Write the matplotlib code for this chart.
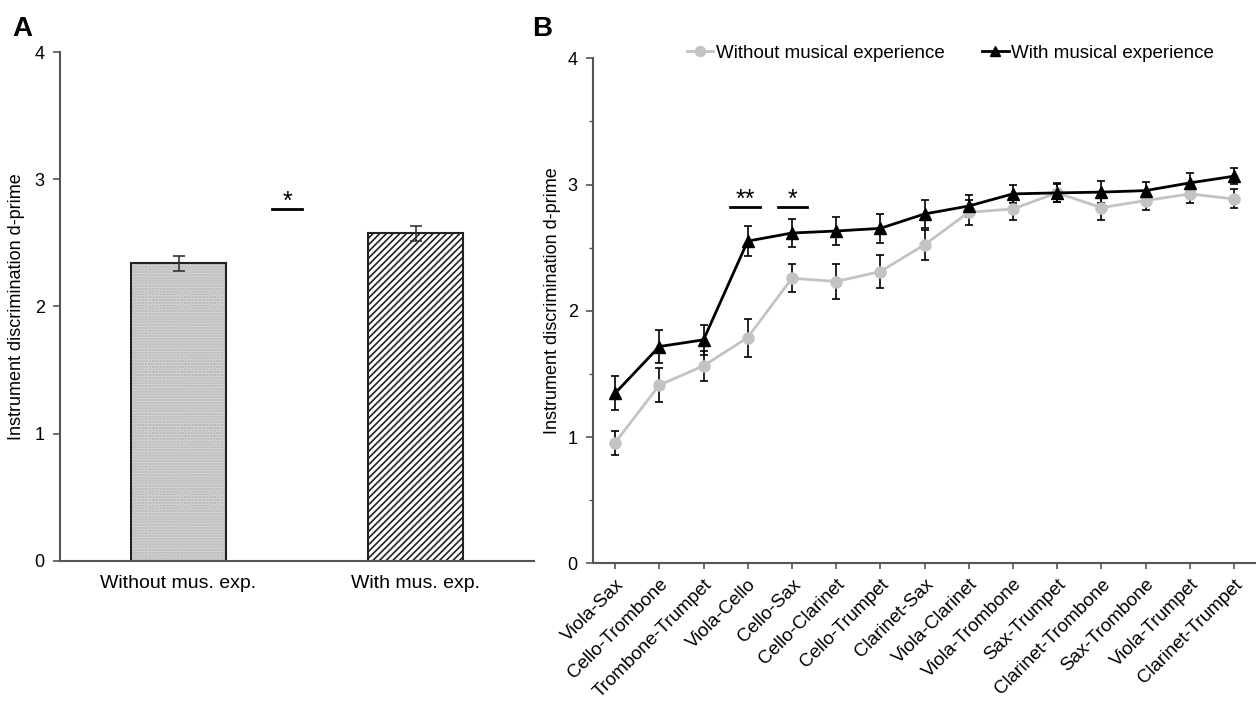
import matplotlib
matplotlib.use("Agg")
import matplotlib.pyplot as plt
from matplotlib.ticker import MultipleLocator

plt.rcParams['font.family'] = ['Liberation Sans', 'DejaVu Sans']
plt.rcParams['hatch.linewidth'] = 1.2

# Panel A data
groups = ['Without mus. exp.', 'With mus. exp.']
group_means = [2.34, 2.576]
group_err = [0.06, 0.06]

# Panel B data
pairs = ['Viola-Sax', 'Cello-Trombone', 'Trombone-Trumpet', 'Viola-Cello',
         'Cello-Sax', 'Cello-Clarinet', 'Cello-Trumpet', 'Clarinet-Sax',
         'Viola-Clarinet', 'Viola-Trombone', 'Sax-Trumpet', 'Clarinet-Trombone',
         'Sax-Trombone', 'Viola-Trumpet', 'Clarinet-Trumpet']
without_exp = [0.956, 1.411, 1.564, 1.788, 2.258, 2.232, 2.311, 2.523,
               2.78, 2.807, 2.934, 2.817, 2.873, 2.926, 2.886]
without_err = [0.095, 0.135, 0.12, 0.15, 0.11, 0.14, 0.13, 0.12,
               0.1, 0.09, 0.07, 0.1, 0.075, 0.07, 0.075]
with_exp = [1.347, 1.717, 1.77, 2.552, 2.616, 2.632, 2.653, 2.767,
            2.83, 2.926, 2.934, 2.94, 2.952, 3.013, 3.066]
with_err = [0.135, 0.13, 0.12, 0.12, 0.11, 0.11, 0.115, 0.11,
            0.09, 0.07, 0.075, 0.085, 0.07, 0.08, 0.065]

ylabel = 'Instrument discrimination d-prime'
spine_col = '#555555'


def style_axes(ax):
    for side in ['top', 'right']:
        ax.spines[side].set_visible(False)
    for side in ['left', 'bottom']:
        ax.spines[side].set_color(spine_col)
        ax.spines[side].set_linewidth(1.5)
    ax.set_ylim(0, 4)
    ax.yaxis.set_major_locator(MultipleLocator(1))
    ax.tick_params(axis='y', direction='out', length=5, width=1.2,
                   color=spine_col, labelsize=13, pad=6)


fig = plt.figure(figsize=(12.56, 7.01), dpi=100)

# ---- Panel A ----
axA = fig.add_axes([60 / 1256, 1 - 560.7 / 701, 474 / 1256, 508.5 / 701])
style_axes(axA)
axA.set_xlim(-0.5, 1.5)
x = [0, 1]
# bar 1: light grey dotted
axA.bar(x[0], group_means[0], width=0.4, color='#d8d8d8', hatch='......',
        edgecolor='#b0b0b0', linewidth=0)
# bar 2: dense diagonal lines
axA.bar(x[1], group_means[1], width=0.4, color='white', hatch='/////',
        edgecolor='#222222', linewidth=0)
axA.bar(x, group_means, width=0.4, fill=False, edgecolor='#222222', linewidth=1.5)
axA.errorbar(x, group_means, yerr=group_err, fmt='none', ecolor='#333333',
             elinewidth=1.2, capsize=4, capthick=1.2)
axA.set_xticks(x)
axA.set_xticklabels(groups, fontsize=14)
axA.tick_params(axis='x', length=0, pad=10)
axA.set_ylabel(ylabel, fontsize=13)
axA.yaxis.set_label_coords(-0.074, 0.5)
axA.plot([0.395, 0.521], [2.768, 2.768], color='black', linewidth=2)
axA.text(0.458, 2.77, '*', ha='center', va='baseline', fontsize=18)

# ---- Panel B ----
axB = fig.add_axes([593 / 1256, 1 - 563.3 / 701, 663 / 1256, 505 / 701])
style_axes(axB)
axB.yaxis.set_minor_locator(MultipleLocator(0.5))
axB.tick_params(axis='y', which='minor', direction='out', length=3, width=1,
                color=spine_col)
xb = list(range(len(pairs)))
axB.set_xlim(-0.5, len(pairs) - 0.5)
axB.errorbar(xb, without_exp, yerr=without_err, fmt='none', ecolor='black',
             elinewidth=1.2, capsize=3, capthick=1.2, zorder=2)
axB.errorbar(xb, with_exp, yerr=with_err, fmt='none', ecolor='black',
             elinewidth=1.2, capsize=3, capthick=1.2, zorder=2)
axB.plot(xb, without_exp, color='#c3c3c3', linewidth=2, marker='o',
         markersize=8, label='Without musical experience', zorder=3)
axB.plot(xb, with_exp, color='black', linewidth=2, marker='^',
         markersize=8, label='With musical experience', zorder=4)
axB.set_xticks(xb)
axB.set_xticklabels(pairs, rotation=45, ha='right', rotation_mode='anchor',
                    fontsize=13.5)
axB.tick_params(axis='x', direction='out', length=4, width=1.2,
                color=spine_col, pad=5)
axB.set_ylabel(ylabel, fontsize=13)
axB.yaxis.set_label_coords(-0.048, 0.52)

# significance markers
for xc, stars in [(2.94, '**'), (4.02, '*')]:
    axB.plot([xc - 0.33, xc + 0.33], [2.82, 2.82], color='black', linewidth=2)
    axB.text(xc, 2.82, stars, ha='center', va='baseline', fontsize=18)

fig.legend(loc='center left', bbox_to_anchor=(687 / 1256, 1 - 53 / 701),
           ncol=2, frameon=False, fontsize=13.5, handlelength=1.4,
           handletextpad=0.15, columnspacing=2.0, borderpad=0,
           borderaxespad=0, markerscale=0.9)

# panel letters
fig.text(12 / 1256, 1 - 36 / 701, 'A', fontsize=20, fontweight='bold')
fig.text(532 / 1256, 1 - 36 / 701, 'B', fontsize=20, fontweight='bold')

fig.savefig('out.png', dpi=100)
